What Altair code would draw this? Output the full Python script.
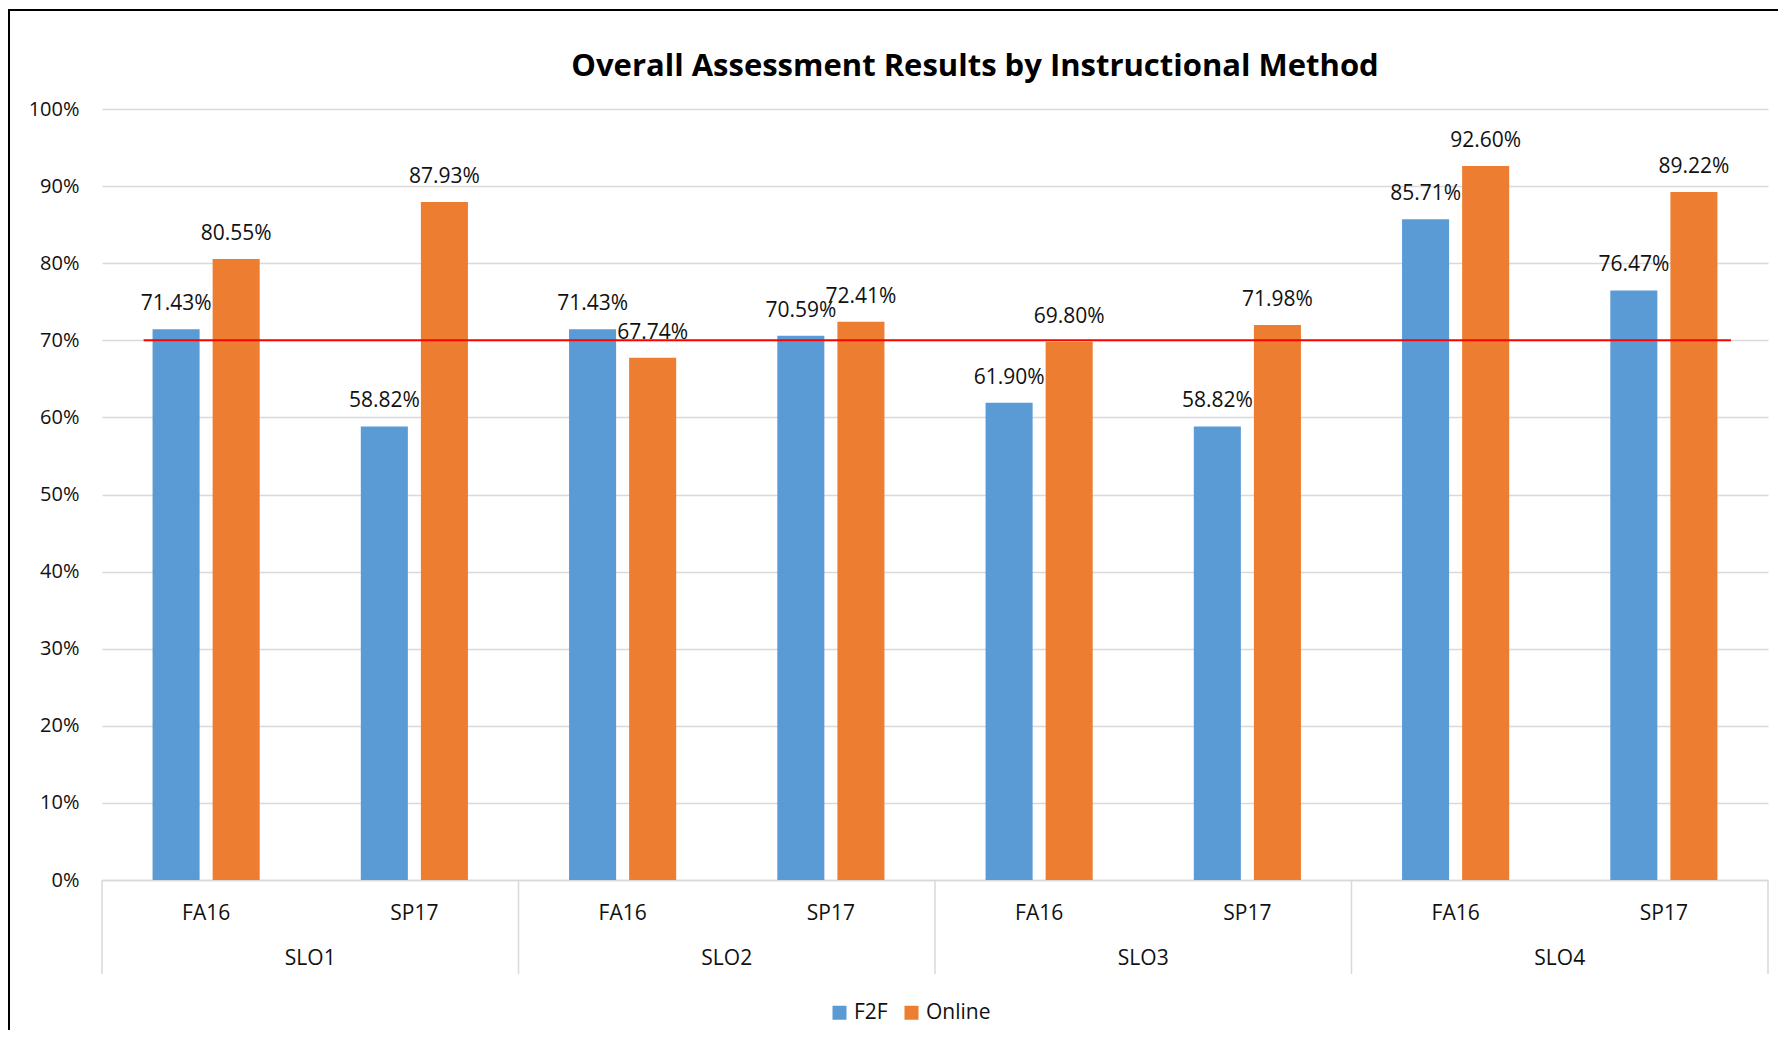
import altair as alt
import pandas as pd

slos = ["SLO1", "SLO2", "SLO3", "SLO4"]
terms = ["FA16", "SP17"]
methods = ["F2F", "Online"]
f2f = [0.7143, 0.5882, 0.7143, 0.7059, 0.6190, 0.5882, 0.8571, 0.7647]
online = [0.8055, 0.8793, 0.6774, 0.7241, 0.6980, 0.7198, 0.9260, 0.8922]
target = 0.70
y_ticks = [0, 0.1, 0.2, 0.3, 0.4, 0.5, 0.6, 0.7, 0.8, 0.9, 1.0]
title_text = "Overall Assessment Results by Instructional Method"

keys = [f"{s}|{t}" for s in slos for t in terms]

rows = []
for i, k in enumerate(keys):
    rows.append({"key": k, "method": "F2F", "value": f2f[i]})
    rows.append({"key": k, "method": "Online", "value": online[i]})
df = pd.DataFrame(rows)

df_slo = pd.DataFrame({"key": [f"{s}|FA16" for s in slos], "slo": slos})
df_end = pd.DataFrame({"key": [keys[-1]]})
df_target = pd.DataFrame({"start": [keys[0]], "end": [keys[-1]], "t": [target]})
df_title = pd.DataFrame({"title": [title_text]})

W, H = 1666, 771
FONT = "Open Sans"
TXT = "#111111"
GRID = "#d9d9d9"

xscale = alt.Scale(domain=keys, paddingInner=0, paddingOuter=0)
xoff = alt.Scale(domain=methods, paddingInner=0.2167, paddingOuter=0.8417)
yscale = alt.Scale(domain=[0, 1], nice=False)

frame = alt.Chart(pd.DataFrame({"a": [1]})).mark_rect(
    fill=None, stroke="#000000", strokeWidth=2
).encode(
    x=alt.value(-93), x2=alt.value(W + 300),
    y=alt.value(-99), y2=alt.value(H + 400),
)

title = alt.Chart(df_title).mark_text(
    font=FONT, fontSize=31, fontWeight="bold", color="#000000",
    align="center", baseline="alphabetic"
).encode(
    x=alt.value(W / 2 + 40), y=alt.value(-33), text="title:N",
)

bars = alt.Chart(df).mark_bar().encode(
    x=alt.X("key:N", scale=xscale, sort=keys,
            axis=alt.Axis(title=None, labelExpr="split(datum.label, '|')[1]")),
    xOffset=alt.XOffset("method:N", scale=xoff, sort=methods),
    y=alt.Y("value:Q", scale=yscale,
            axis=alt.Axis(title=None, values=y_ticks, format=".0%")),
    color=alt.Color("method:N", sort=methods,
                    scale=alt.Scale(domain=methods, range=["#5b9bd5", "#ed7d31"]),
                    legend=alt.Legend(title=None, orient="none", direction="horizontal",
                                      legendX=727, legendY=893,
                                      symbolType="square", symbolSize=196,
                                      symbolStrokeWidth=0,
                                      labelFontSize=21, labelFont=FONT, labelColor=TXT,
                                      labelOffset=4, columnPadding=13, padding=0)),
)

labels = alt.Chart(df).mark_text(
    baseline="middle", dy=-25, fontSize=21, font=FONT, color=TXT
).encode(
    x=alt.X("key:N", scale=xscale, sort=keys),
    xOffset=alt.XOffset("method:N", scale=xoff, sort=methods),
    y=alt.Y("value:Q", scale=yscale),
    text=alt.Text("value:Q", format=".2%"),
)

target_line = alt.Chart(df_target).mark_rule(color="#ff0000", strokeWidth=2).encode(
    x=alt.X("start:N", scale=xscale, bandPosition=0.2),
    x2=alt.X2("end:N", bandPosition=0.822),
    y=alt.Y("t:Q", scale=yscale),
)

dividers = alt.Chart(df_slo).mark_rule(color=GRID, strokeWidth=1.5).encode(
    x=alt.X("key:N", scale=xscale, bandPosition=0),
    y=alt.value(H), y2=alt.value(H + 94),
)
divider_end = alt.Chart(df_end).mark_rule(color=GRID, strokeWidth=1.5).encode(
    x=alt.X("key:N", scale=xscale, bandPosition=1),
    y=alt.value(H), y2=alt.value(H + 94),
)

slo_text = alt.Chart(df_slo).mark_text(
    baseline="middle", fontSize=21, font=FONT, color=TXT
).encode(
    x=alt.X("key:N", scale=xscale, bandPosition=1),
    y=alt.value(H + 79),
    text="slo:N",
)

chart = alt.layer(
    frame, title, bars, target_line, labels, dividers, divider_end, slo_text
).properties(
    width=W, height=H,
    autosize=alt.AutoSizeParams(type="none"),
    padding={"left": 94, "top": 101, "right": 10, "bottom": 150},
).configure_view(stroke=None).configure_axisX(
    labelAngle=0, ticks=False, domain=True, domainColor=GRID, domainWidth=1.5,
    labelPadding=22, labelFontSize=21, labelFont=FONT, labelColor=TXT, grid=False,
).configure_axisY(
    ticks=False, domain=False, grid=True, gridColor=GRID, gridWidth=1.3,
    labelPadding=23, labelFontSize=20, labelFont=FONT, labelColor=TXT,
)

chart.save("out.html", embed_options={"renderer": "svg", "actions": False})
